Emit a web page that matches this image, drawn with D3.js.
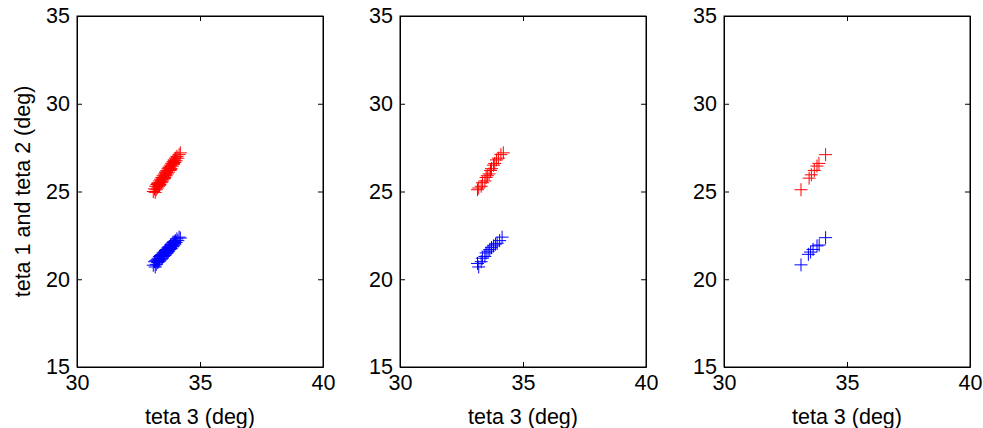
<!DOCTYPE html>
<html><head><meta charset="utf-8">
<script src="https://cdn.jsdelivr.net/npm/d3@7/dist/d3.min.js"></script>
<style>body{margin:0;background:#fff}svg{display:block}text{font-family:"Liberation Sans",Arial,sans-serif;fill:#000}</style>
</head><body><div id="c"></div>
<script>
const xTicks = [30, 35, 40];
const yTicks = [15, 20, 25, 30, 35];
const xLabel = "teta 3 (deg)";
const yLabel = "teta 1 and teta 2 (deg)";

// Panel 1 (dense)
const p1RedX = [33.10,33.15,33.18,33.20,33.22,33.25,33.28,33.30,33.32,33.35,33.37,33.40,33.42,33.45,33.47,33.50,33.52,33.55,33.57,33.60,33.62,33.65,33.67,33.70,33.72,33.75,33.78,33.80,33.83,33.85,33.88,33.90,33.93,33.95,33.98,34.00,34.03,34.06,34.10,34.15,34.20,33.28,33.45,33.62,33.80,33.96,33.35,33.55,33.74,33.92];
const p1RedY = [25.0,25.15,24.95,25.3,25.1,25.4,25.2,25.5,25.3,25.6,25.4,25.7,25.5,25.8,25.6,25.9,25.7,26.0,25.8,26.1,25.9,26.2,26.0,26.3,26.1,26.4,26.2,26.5,26.3,26.6,26.45,26.7,26.55,26.8,26.65,26.9,26.75,27.0,26.9,27.1,27.2,25.45,25.55,26.1,26.25,26.75,25.35,25.75,26.35,26.6];
const p1BlueX = [33.10,33.15,33.18,33.20,33.22,33.25,33.28,33.30,33.32,33.35,33.37,33.40,33.42,33.45,33.47,33.50,33.52,33.55,33.57,33.60,33.62,33.65,33.67,33.70,33.72,33.75,33.78,33.80,33.83,33.85,33.88,33.90,33.93,33.95,33.98,34.00,34.03,34.06,34.10,34.15,34.20,33.28,33.45,33.62,33.80,33.96,33.35,33.55,33.74,33.92];
const p1BlueY = [20.8,21.0,20.7,21.05,20.85,21.1,20.95,21.2,21.0,21.3,21.05,21.35,21.15,21.4,21.2,21.5,21.3,21.55,21.35,21.65,21.45,21.7,21.5,21.8,21.6,21.85,21.7,21.95,21.75,22.0,21.85,22.1,21.9,22.15,22.0,22.2,22.1,22.3,22.2,22.4,22.35,21.1,21.35,21.6,21.8,22.05,21.15,21.45,21.75,21.95];

// Panel 2
const p2RedX = [33.15,33.2,33.3,33.35,33.45,33.5,33.55,33.62,33.68,33.72,33.8,33.85,33.92,34.0,34.1,34.2];
const p2RedY = [25.1,25.2,25.3,25.5,25.6,25.8,25.9,26.0,26.2,26.3,26.5,26.6,26.8,26.9,27.1,27.2];
const p2BlueX = [33.15,33.2,33.3,33.35,33.45,33.5,33.58,33.65,33.72,33.8,33.88,33.95,34.05,34.15];
const p2BlueY = [20.9,20.7,21.0,21.2,21.3,21.5,21.6,21.7,21.8,21.9,22.0,22.05,22.2,22.4];

// Panel 3
const p3RedX = [33.13,33.46,33.55,33.67,33.78,33.86,34.13];
const p3RedY = [25.1,25.76,25.95,26.2,26.45,26.6,27.1];
const p3BlueX = [33.13,33.43,33.52,33.62,33.78,33.87,34.13];
const p3BlueY = [20.82,21.42,21.55,21.7,21.9,21.95,22.37];

const panels = [
  {left: 77, red: [p1RedX, p1RedY], blue: [p1BlueX, p1BlueY], ylab: true},
  {left: 400, red: [p2RedX, p2RedY], blue: [p2BlueX, p2BlueY], ylab: false},
  {left: 724, red: [p3RedX, p3RedY], blue: [p3BlueX, p3BlueY], ylab: false}
];

const W = 983, H = 428, pw = 246, plotTop = 16, plotBottom = 367;
const FS = 21.5;
const svg = d3.select("#c").append("svg").attr("width", W).attr("height", H);
const arm = 6.5;
const cross = `M${-arm},0H${arm}M0,${-arm}V${arm}`;

panels.forEach(p => {
  const x = d3.scaleLinear().domain([30, 40]).range([p.left, p.left + pw]);
  const y = d3.scaleLinear().domain([15, 35]).range([plotBottom, plotTop]);
  const g = svg.append("g");

  g.append("rect").attr("x", x(30)).attr("y", y(35)).attr("width", x(40) - x(30)).attr("height", y(15) - y(35))
    .attr("fill", "#fff").attr("stroke", "#000").attr("stroke-width", 1);

  const axB = g.append("g").attr("transform", `translate(0,${plotBottom})`)
    .call(d3.axisBottom(x).tickValues(xTicks).tickSizeInner(-5).tickSizeOuter(0));
  const axT = g.append("g").attr("transform", `translate(0,${plotTop})`)
    .call(d3.axisTop(x).tickValues(xTicks).tickSizeInner(-5).tickSizeOuter(0).tickFormat(""));
  const axL = g.append("g").attr("transform", `translate(${p.left},0)`)
    .call(d3.axisLeft(y).tickValues(yTicks).tickSizeInner(-5).tickSizeOuter(0).tickPadding(7));
  const axR = g.append("g").attr("transform", `translate(${p.left + pw},0)`)
    .call(d3.axisRight(y).tickValues(yTicks).tickSizeInner(-5).tickSizeOuter(0).tickFormat(""));
  [axB, axT, axL, axR].forEach(a => {
    a.select(".domain").attr("stroke", "#000");
    a.selectAll("line").attr("stroke", "#000");
    a.selectAll("text").attr("font-size", FS).attr("font-family", "Liberation Sans, Arial, sans-serif").attr("fill", "#000");
  });
  axB.selectAll("text").attr("dy", "0.71em").attr("y", 8);

  [[p.red, "#ff0000"], [p.blue, "#0000ff"]].forEach(([s, col]) => {
    const pts = s[0].map((v, i) => [v, s[1][i]]);
    g.append("g").selectAll("path").data(pts).join("path")
      .attr("d", cross)
      .attr("transform", d => `translate(${x(d[0])},${y(d[1])})`)
      .attr("stroke", col).attr("stroke-width", 1).attr("fill", "none");
  });

  g.append("text").attr("x", x(35)).attr("y", 424).attr("text-anchor", "middle")
    .attr("font-size", FS).text(xLabel);
  if (p.ylab) {
    g.append("text").attr("transform", `translate(30,${y(25)}) rotate(-90)`)
      .attr("text-anchor", "middle").attr("font-size", FS).text(yLabel);
  }
});
</script></body></html>
